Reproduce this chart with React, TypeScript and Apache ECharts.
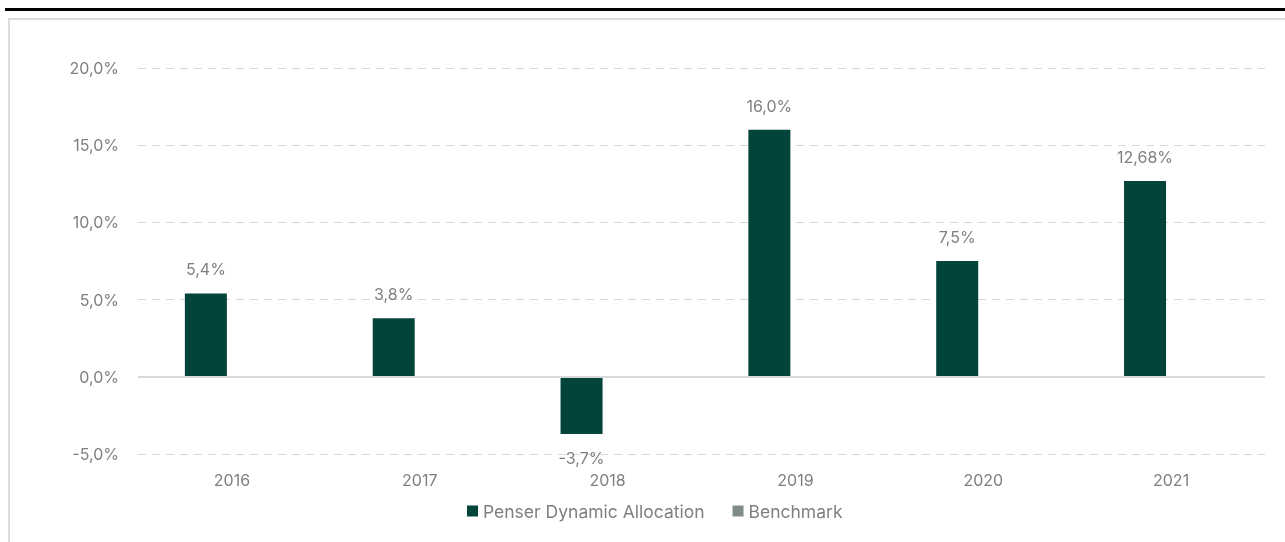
import React, { useEffect, useRef } from "react";
import * as echarts from "echarts";

const categories = ["2016", "2017", "2018", "2019", "2020", "2021"];
const penserValues = [5.4, 3.8, -3.7, 16.0, 7.5, 12.68];
const benchmarkValues: (number | null)[] = [null, null, null, null, null, null];
const seriesNames = ["Penser Dynamic Allocation", "Benchmark"];
const yTicks = { min: -5, max: 20, interval: 5 };

const fmt = (v: number) => {
  const s = Math.round(v * 10) === v * 10 ? v.toFixed(1) : v.toFixed(2);
  return s.replace(".", ",") + "%";
};

export default function App() {
  const ref = useRef<HTMLDivElement>(null);
  useEffect(() => {
    if (!ref.current) return;
    const chart = echarts.init(ref.current, undefined, { renderer: "svg" });
    const textColor = "#7f7f7f";
    const font = "Inter";
    chart.setOption({
      animation: false,
      textStyle: { fontFamily: font },
      graphic: [
        {
          type: "line",
          shape: { x1: 5, y1: 9.5, x2: 1285, y2: 9.5 },
          style: { stroke: "#000", lineWidth: 3 },
        },
        {
          type: "polyline",
          shape: { points: [[9, 560], [9, 19], [1290, 19]] },
          style: { stroke: "#dcdcdc", lineWidth: 2, fill: "none" },
        },
      ],
      grid: { left: 138, right: 20, top: 68, bottom: 88 },
      legend: {
        left: 462,
        top: 497,
        itemWidth: 11,
        itemHeight: 11,
        itemGap: 28,
        icon: "rect",
        textStyle: { color: textColor, fontSize: 17.5, fontFamily: font },
        data: seriesNames,
      },
      xAxis: {
        type: "category",
        data: categories,
        axisLine: { show: false },
        axisTick: { show: false },
        axisLabel: { color: textColor, fontSize: 16, margin: 18, fontFamily: font },
      },
      yAxis: {
        type: "value",
        min: yTicks.min,
        max: yTicks.max,
        interval: yTicks.interval,
        axisLine: { show: false },
        axisTick: { show: false },
        axisLabel: {
          color: textColor,
          fontSize: 16,
          margin: 19,
          fontFamily: font,
          formatter: (v: number) => fmt(v),
        },
        splitLine: { lineStyle: { color: "#d9d9d9", type: [8, 6], width: 1 } },
      },
      series: [
        {
          name: seriesNames[0],
          type: "bar",
          data: penserValues,
          barWidth: 42,
          barGap: "24%",
          itemStyle: { color: "#02433a" },
          label: {
            show: true,
            position: "outside",
            distance: 16,
            color: textColor,
            fontSize: 16,
            fontFamily: font,
            formatter: (p: any) => fmt(p.value),
          },
          markLine: {
            silent: true,
            symbol: "none",
            label: { show: false },
            lineStyle: { color: "#d9d9d9", type: "solid", width: 2 },
            data: [{ yAxis: 0 }],
          },
          z: 3,
        },
        {
          name: seriesNames[1],
          type: "bar",
          data: benchmarkValues,
          barWidth: 42,
          itemStyle: { color: "#7f8c88" },
        },
      ],
    });
    return () => chart.dispose();
  }, []);
  return (
    <div
      ref={ref}
      style={{ position: "fixed", left: 0, top: 0, width: 1285, height: 542 }}
    />
  );
}
